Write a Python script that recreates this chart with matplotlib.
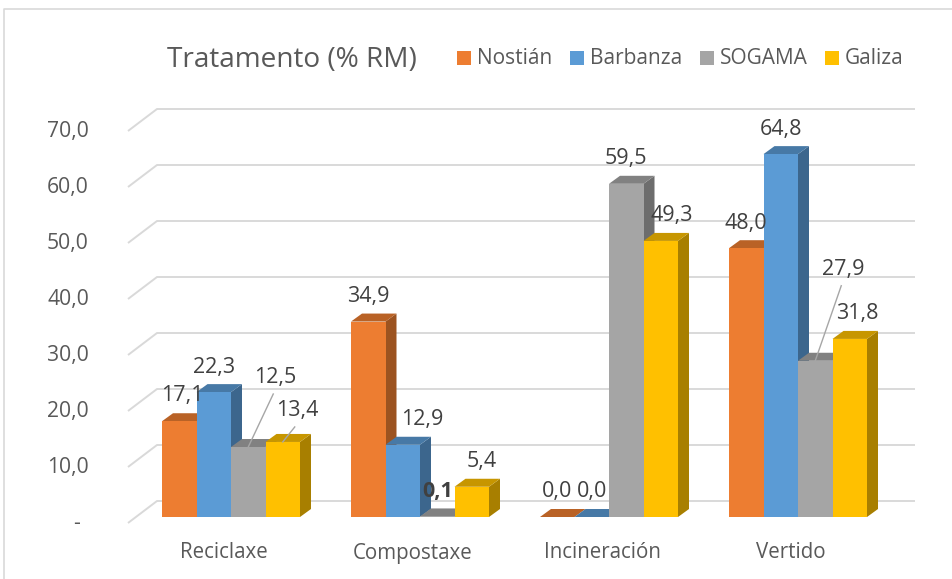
import numpy as np
import matplotlib
matplotlib.use("Agg")
import matplotlib.pyplot as plt
from matplotlib.patches import Polygon, Rectangle
from matplotlib.lines import Line2D

categories = ["Reciclaxe", "Compostaxe", "Incineración", "Vertido"]
series = ["Nostián", "Barbanza", "SOGAMA", "Galiza"]
nostian = [17.1, 34.9, 0.0, 48.0]
barbanza = [22.3, 12.9, 0.0, 64.8]
sogama = [12.5, 0.1, 59.5, 27.9]
galiza = [13.4, 5.4, 49.3, 31.8]
yticks = [0, 10, 20, 30, 40, 50, 60, 70]

colors = ["#ED7D31", "#5B9BD5", "#A5A5A5", "#FFC000"]
txt_col = "#595959"
lab_col = "#404040"
grid_col = "#D9D9D9"

# layout in pixels
W, H = 952, 579
GAP = 189.0      # px between groups
SCALE = 5.6      # px per percent
X0 = 231.0       # centre of first group
Y0 = 517.0       # bar base (from top)
px = 1 / GAP
py = 1 / SCALE

# label nudges (px right, px up) and which ones get a leader line
nudge = {(0, 0): (3, 1), (0, 2): (27, 44), (0, 3): (14, 6), (1, 1): (19, 0),
         (1, 3): (10, 0), (2, 3): (11, 0), (3, 2): (28, 66), (3, 3): (8, 0)}
leaders = [(0, 2), (0, 3), (3, 2)]

plt.rcParams["font.family"] = ["Open Sans", "DejaVu Sans"]

fig = plt.figure(figsize=(W / 100, H / 100), dpi=100)
ax = fig.add_axes([0, 0, 1, 1])
ax.set_xlim(-X0 / GAP, (W - X0) / GAP)
ax.set_ylim(-(H - Y0) / SCALE, Y0 / SCALE)
ax.axis("off")

# walls / gridlines
for g in yticks:
    ax.plot([-103 * px, -74 * px, (915 - X0) * px],
            [g - 6 * py, g + 16 * py, g + 16 * py],
            color=grid_col, lw=1.4, zorder=1, solid_capstyle="butt")
    lab = "-" if g == 0 else f"{g:.1f}".replace(".", ",")
    xr = -142 * px if g else -151 * px
    ax.text(xr, g - 6 * py, lab, ha="right", va="center", fontsize=15.2, color=txt_col)

bw = 34.5 * px
ddx, ddy = 11 * px, 8 * py
offsets = (np.arange(4) - 1.5) * bw
data = [nostian, barbanza, sogama, galiza]
xs = np.arange(len(categories))


def shade(c, f):
    r, g, b = matplotlib.colors.to_rgb(c)
    return (r * f, g * f, b * f)


for j, vals in enumerate(data):
    c = colors[j]
    xc = xs + offsets[j]
    for xi, v in zip(xc, vals):
        xl, xr = xi - bw / 2, xi + bw / 2
        side = Polygon([(xr, 0), (xr + ddx, ddy), (xr + ddx, v + ddy), (xr, v)],
                       closed=True, fc=shade(c, 0.66), ec="none", zorder=2 + j)
        top = Polygon([(xl, v), (xl + ddx, v + ddy), (xr + ddx, v + ddy), (xr, v)],
                      closed=True, fc=shade(c, 0.78), ec="none", zorder=2 + j)
        ax.add_patch(side)
        ax.add_patch(top)
    ax.bar(xc, vals, width=bw, color=c, linewidth=0, zorder=2.5 + j)

# data labels
for j, vals in enumerate(data):
    for i, v in enumerate(vals):
        xi = i + offsets[j]
        nx, ny = nudge.get((i, j), (0, 0))
        lx = xi + nx * px
        ly = v + ddy + (17 + ny) * py
        weight = "bold" if (i, j) == (1, 2) else "normal"
        ax.text(lx, ly, f"{v:.1f}".replace(".", ","), ha="center", va="center",
                fontsize=15.5, color=lab_col, fontweight=weight, zorder=10)
        if (i, j) in leaders:
            ax.plot([lx - 2 * px, xi], [ly - 16 * py, v], color="#A6A6A6", lw=1, zorder=9)

# category labels
for i, cat in enumerate(categories):
    ax.text(i - 7 * px, (Y0 - 553) * py, cat, ha="center", va="center",
            fontsize=14.8, color=txt_col)

# title
fig.text(167 / W, 1 - 60 / H, "Tratamento (% RM)", ha="left", va="center",
         fontsize=20.2, color=txt_col)

# legend
fig.canvas.draw()
renderer = fig.canvas.get_renderer()
x = 457.0
for name, c in zip(series, colors):
    fig.add_artist(Rectangle((x / W, 1 - 65 / H), 14 / W, 14 / H, fc=c, ec="none",
                             transform=fig.transFigure))
    t = fig.text((x + 20) / W, 1 - 58 / H, name, ha="left", va="center",
                 fontsize=15, color=txt_col)
    bb = t.get_window_extent(renderer)
    x = bb.x1 + 17.5

# outer frame
fig.add_artist(Line2D([4 / W, 4 / W, 1], [0, 1 - 9 / H, 1 - 9 / H],
                      transform=fig.transFigure, color=grid_col, lw=1.2))

fig.savefig("out.png", dpi=100)
